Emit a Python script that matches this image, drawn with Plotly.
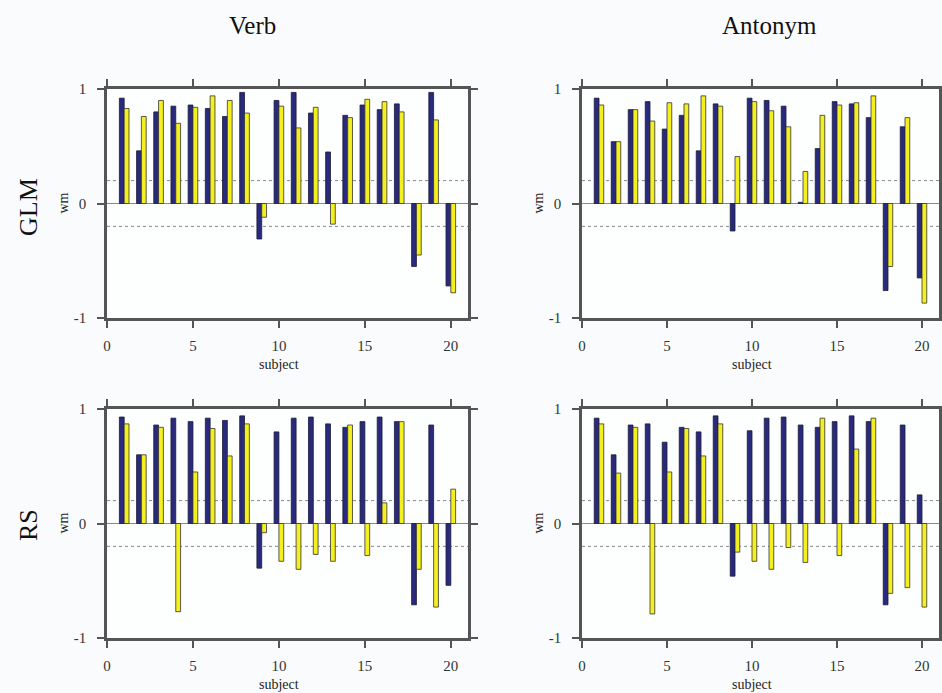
import plotly.graph_objects as go

subjects = list(range(1, 21))

glm_verb_navy = [0.92, 0.46, 0.80, 0.85, 0.86, 0.83, 0.76, 0.97, -0.31, 0.90,
                 0.97, 0.79, 0.45, 0.77, 0.86, 0.82, 0.87, -0.55, 0.97, -0.72]
glm_verb_yellow = [0.83, 0.76, 0.90, 0.70, 0.84, 0.94, 0.90, 0.79, -0.12, 0.85,
                   0.66, 0.84, -0.18, 0.75, 0.91, 0.89, 0.80, -0.45, 0.73, -0.78]

glm_ant_navy = [0.92, 0.54, 0.82, 0.89, 0.65, 0.77, 0.46, 0.87, -0.24, 0.92,
                0.90, 0.85, 0.01, 0.48, 0.89, 0.87, 0.75, -0.76, 0.67, -0.65]
glm_ant_yellow = [0.86, 0.54, 0.82, 0.72, 0.88, 0.87, 0.94, 0.85, 0.41, 0.89,
                  0.81, 0.67, 0.28, 0.77, 0.86, 0.88, 0.94, -0.55, 0.75, -0.87]

rs_verb_navy = [0.93, 0.60, 0.86, 0.92, 0.89, 0.92, 0.90, 0.94, -0.39, 0.80,
                0.92, 0.93, 0.87, 0.84, 0.89, 0.93, 0.89, -0.71, 0.86, -0.54]
rs_verb_yellow = [0.87, 0.60, 0.84, -0.77, 0.45, 0.83, 0.59, 0.87, -0.08, -0.33,
                  -0.40, -0.27, -0.33, 0.86, -0.28, 0.18, 0.89, -0.40, -0.73, 0.30]

rs_ant_navy = [0.92, 0.60, 0.86, 0.87, 0.71, 0.84, 0.80, 0.94, -0.46, 0.81,
               0.92, 0.93, 0.86, 0.84, 0.89, 0.94, 0.89, -0.71, 0.86, 0.25]
rs_ant_yellow = [0.87, 0.44, 0.84, -0.79, 0.45, 0.83, 0.59, 0.87, -0.25, -0.33,
                 -0.40, -0.21, -0.34, 0.92, -0.28, 0.65, 0.92, -0.61, -0.56, -0.73]

col_titles = ["Verb", "Antonym"]
row_titles = ["GLM", "RS"]
x_ticks = [0, 5, 10, 15, 20]
y_ticks = [-1, 0, 1]
y_tick_text = ["-1", "0", "1"]

NAVY = "#2a2a7c"
YELLOW = "#f4ef1e"
FONT = "Liberation Serif, Times New Roman, serif"
W, H = 942, 693

panels = [
    (glm_verb_navy, glm_verb_yellow),
    (glm_ant_navy, glm_ant_yellow),
    (rs_verb_navy, rs_verb_yellow),
    (rs_ant_navy, rs_ant_yellow),
]

# pixel layout of the plot frames
col_px = [(107, 468), (582, 939)]
row_px = [(89, 318), (409, 638)]

fig = go.Figure()
layout = dict(
    width=W, height=H,
    margin=dict(l=0, r=0, t=0, b=0, pad=0, autoexpand=False),
    paper_bgcolor="#f9fbfc",
    plot_bgcolor="#fdfefe",
    showlegend=False,
    barmode="group",
    bargap=0.44,
    bargroupgap=0.0,
    font=dict(family=FONT, color="#222"),
)

shapes = []
annotations = []


def label(text, xp, yp, size, angle=0, color="#222"):
    return dict(text=text, xref="paper", yref="paper", x=xp / W, y=1 - yp / H,
                xanchor="center", yanchor="middle", textangle=angle,
                showarrow=False, font=dict(family=FONT, size=size, color=color))


for idx, (navy, yellow) in enumerate(panels):
    r, c = divmod(idx, 2)
    n = idx + 1
    xa = "x" if n == 1 else f"x{n}"
    ya = "y" if n == 1 else f"y{n}"
    fig.add_trace(go.Bar(x=subjects, y=navy, xaxis=xa, yaxis=ya,
                         marker=dict(color=NAVY, line=dict(color="#1a1a3a", width=0.8)),
                         offsetgroup="a"))
    fig.add_trace(go.Bar(x=subjects, y=yellow, xaxis=xa, yaxis=ya,
                         marker=dict(color=YELLOW, line=dict(color="#333", width=0.8)),
                         offsetgroup="b"))
    x0p, x1p = col_px[c]
    y0p, y1p = row_px[r]
    xdom = [x0p / W, x1p / W]
    ydom = [1 - y1p / H, 1 - y0p / H]
    axis_common = dict(showline=True, linecolor="#555", linewidth=2.5, mirror="ticks",
                       ticks="outside", ticklen=7, tickwidth=2, tickcolor="#555",
                       showgrid=False, tickfont=dict(family=FONT, size=15, color="#333"))
    layout["xaxis" if n == 1 else f"xaxis{n}"] = dict(
        domain=xdom, range=[0, 21], tickvals=x_ticks, anchor=ya,
        zeroline=False, ticklabelstandoff=5, **axis_common)
    layout["yaxis" if n == 1 else f"yaxis{n}"] = dict(
        domain=ydom, range=[-1, 1], tickvals=y_ticks, ticktext=y_tick_text, anchor=xa,
        zeroline=True, zerolinecolor="#8a8a8a", zerolinewidth=1.2,
        ticklabelstandoff=8, **axis_common)
    for yv in (0.2, -0.2):
        shapes.append(dict(type="line", xref=f"{xa} domain", yref=ya,
                           x0=0, x1=1, y0=yv, y1=yv, layer="below",
                           line=dict(color="#888", width=1, dash="dot")))
    # axis titles
    annotations.append(label("subject", (x0p + x1p) / 2 - 9, y1p + 46, 14))
    annotations.append(label("wm", x0p - 44, (y0p + y1p) / 2, 14, angle=-90))

for c, t in enumerate(col_titles):
    annotations.append(label(t, [252, 769][c], 26, 25, color="#111"))
for r, t in enumerate(row_titles):
    annotations.append(label(t, 28, [207, 525][r], 26, angle=-90, color="#111"))

layout["shapes"] = shapes
layout["annotations"] = annotations
fig.update_layout(**layout)
fig.write_html("out.html")
